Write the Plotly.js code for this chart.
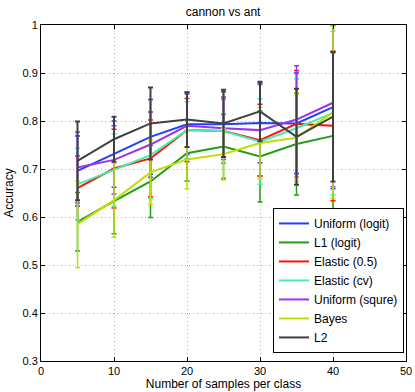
<!DOCTYPE html>
<html>
<head>
<meta charset="utf-8">
<script src="https://cdn.plot.ly/plotly-3.0.1.min.js"></script>
<style>
  html, body { margin: 0; padding: 0; background: #fff; }
  #chart { width: 415px; height: 392px; }
</style>
</head>
<body>
<div id="chart"></div>
<script>
// samples per class
const samples = [5, 10, 15, 20, 25, 30, 35, 40];

const seriesNames = [
  "Uniform (logit)",
  "L1 (logit)",
  "Elastic (0.5)",
  "Elastic (cv)",
  "Uniform (squre)",
  "Bayes",
  "L2"
];

const seriesColors = [
  "#2040ff",
  "#20a010",
  "#ff1010",
  "#40f0b0",
  "#a030f0",
  "#bde000",
  "#404040"
];

// mean accuracy
const uniformLogit = [0.696, 0.731, 0.767, 0.793, 0.793, 0.796, 0.795, 0.829];
const l1Logit      = [0.590, 0.633, 0.674, 0.733, 0.747, 0.726, 0.752, 0.769];
const elastic05    = [0.660, 0.701, 0.722, 0.781, 0.779, 0.760, 0.794, 0.790];
const elasticCv    = [0.668, 0.698, 0.729, 0.781, 0.779, 0.757, 0.785, 0.817];
const uniformSqure = [0.703, 0.719, 0.751, 0.790, 0.785, 0.781, 0.803, 0.838];
const bayes        = [0.585, 0.635, 0.693, 0.720, 0.731, 0.754, 0.765, 0.818];
const l2           = [0.717, 0.762, 0.795, 0.803, 0.795, 0.820, 0.767, 0.809];

// error bar half widths
const uniformLogitErr = [0.073, 0.069, 0.078, 0.063, 0.068, 0.083, 0.105, 0.170];
const l1LogitErr      = [0.061, 0.068, 0.075, 0.058, 0.067, 0.095, 0.106, 0.173];
const elastic05Err    = [0.067, 0.082, 0.080, 0.066, 0.067, 0.075, 0.111, 0.156];
const elasticCvErr    = [0.075, 0.075, 0.090, 0.059, 0.066, 0.089, 0.103, 0.170];
const uniformSqureErr = [0.074, 0.071, 0.068, 0.070, 0.065, 0.095, 0.112, 0.175];
const bayesErr        = [0.090, 0.077, 0.067, 0.061, 0.054, 0.074, 0.091, 0.180];
const l2Err           = [0.082, 0.047, 0.075, 0.057, 0.070, 0.062, 0.100, 0.135];

const means = [uniformLogit, l1Logit, elastic05, elasticCv, uniformSqure, bayes, l2];
const errs = [uniformLogitErr, l1LogitErr, elastic05Err, elasticCvErr, uniformSqureErr, bayesErr, l2Err];

const traces = means.map((m, i) => ({
  x: samples,
  y: m,
  type: "scatter",
  mode: "lines",
  name: seriesNames[i],
  line: { color: seriesColors[i], width: 2 },
  error_y: {
    type: "data",
    array: errs[i],
    visible: true,
    color: seriesColors[i],
    thickness: i === 6 ? 2 : 1.5,
    width: 2.5
  }
}));

const font = "Liberation Sans, Arial, sans-serif";

const layout = {
  width: 415,
  height: 392,
  margin: { l: 41, r: 9, t: 25, b: 31 },
  paper_bgcolor: "#fff",
  plot_bgcolor: "#fff",
  font: { family: font, size: 11, color: "#000" },
  title: {
    text: "cannon vs ant",
    font: { family: font, size: 12, color: "#000" },
    x: 0.5375,
    xanchor: "center",
    y: 0.97,
    yanchor: "middle"
  },
  xaxis: {
    range: [0, 50],
    tickvals: [0, 10, 20, 30, 40, 50],
    ticks: "inside",
    ticklen: 4,
    tickcolor: "#000",
    showline: true,
    linecolor: "#000",
    mirror: "ticks",
    showgrid: true,
    gridcolor: "#b0b0b0",
    griddash: "1px,3px",
    zeroline: false,
    title: { text: "Number of samples per class", standoff: 2, font: { size: 12 } }
  },
  yaxis: {
    range: [0.3, 1],
    tickvals: [0.3, 0.4, 0.5, 0.6, 0.7, 0.8, 0.9, 1],
    ticktext: ["0.3", "0.4", "0.5", "0.6", "0.7", "0.8", "0.9", "1"],
    ticks: "inside",
    ticklen: 4,
    tickcolor: "#000",
    showline: true,
    linecolor: "#000",
    mirror: "ticks",
    showgrid: true,
    gridcolor: "#b0b0b0",
    griddash: "1px,3px",
    zeroline: false,
    title: { text: "Accuracy", standoff: 6, font: { size: 12 } }
  },
  showlegend: true,
  legend: {
    x: 0.9945,
    xanchor: "right",
    y: 0.024,
    yanchor: "bottom",
    bgcolor: "#fff",
    bordercolor: "#000",
    borderwidth: 1,
    font: { family: font, size: 12, color: "#000" },
    itemwidth: 30,
    tracegroupgap: 0
  }
};

Plotly.newPlot("chart", traces, layout, { staticPlot: true, displayModeBar: false });
</script>
</body>
</html>
